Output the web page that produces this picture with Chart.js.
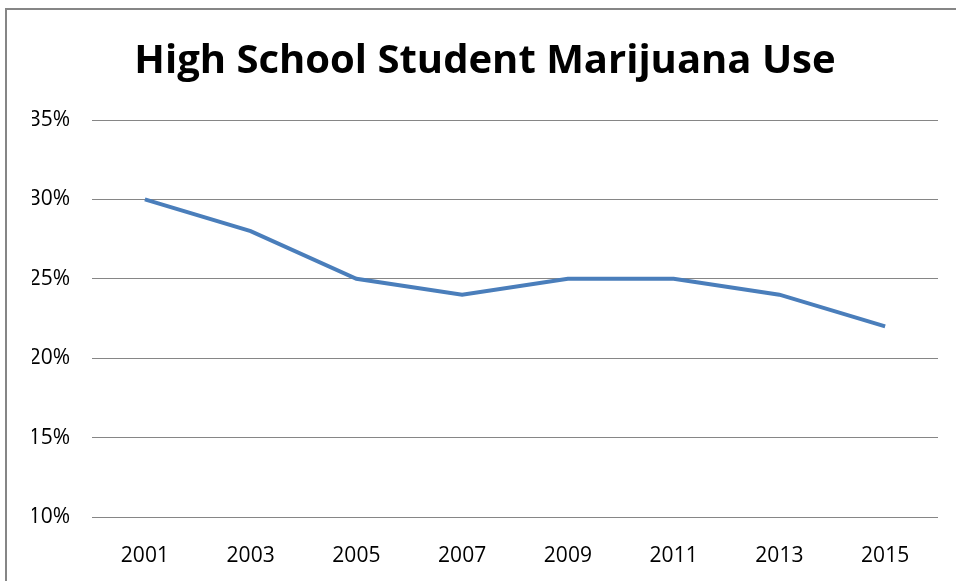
<!DOCTYPE html>
<html>
<head>
<meta charset="utf-8">
<script src="https://cdn.jsdelivr.net/npm/chart.js@4/dist/chart.umd.min.js"></script>
<style>
  html, body { margin: 0; padding: 0; background: #fff; }
  #wrap { position: relative; width: 956px; height: 581px; }
</style>
</head>
<body>
<div id="wrap"><canvas id="chart-line"></canvas></div>
<script>
const years = ["2001", "2003", "2005", "2007", "2009", "2011", "2013", "2015"];
const usePct = [30, 28, 25, 24, 25, 25, 24, 22];
const yTicks = [10, 15, 20, 25, 30, 35];

// outer frame like the spreadsheet chart border
const framePlugin = {
  id: "frame",
  beforeDraw(chart) {
    const c = chart.ctx;
    c.save();
    c.strokeStyle = "#868686";
    c.lineWidth = 2;
    c.strokeRect(6, 9, 960, 600);
    c.restore();
  },
};

document.addEventListener("DOMContentLoaded", function () {
  const ctx = document.getElementById("chart-line").getContext("2d");

  new Chart(ctx, {
    type: "line",
    data: {
      labels: years,
      datasets: [
        {
          label: "Marijuana use",
          data: usePct,
          borderColor: "#4A7EBB",
          borderWidth: 4,
          pointRadius: 0,
          tension: 0,
          fill: false,
        },
      ],
    },
    options: {
      responsive: true,
      maintainAspectRatio: false,
      animation: false,
      layout: { padding: { top: 0, right: 18, bottom: 0, left: 32 } },
      plugins: {
        legend: { display: false },
        tooltip: { enabled: false },
        title: {
          display: true,
          text: "High School Student Marijuana Use",
          color: "#000",
          font: { family: "'Open Sans', sans-serif", size: 40, weight: "bold" },
          padding: { top: 38, bottom: 34 },
        },
      },
      scales: {
        y: {
          min: 10,
          max: 35,
          afterFit(scale) { scale.width = 60; },
          afterBuildTicks(scale) { scale.ticks = yTicks.map(v => ({ value: v })); },
          border: { display: false },
          grid: { color: "#868686", lineWidth: 1, drawTicks: false },
          ticks: {
            padding: 22,
            color: "#000",
            font: { family: "'Open Sans', sans-serif", size: 21 },
            callback: v => v + "%",
          },
        },
        x: {
          offset: true,
          afterFit(scale) { scale.height = 64; },
          border: { display: false },
          grid: { display: false },
          ticks: {
            padding: 18,
            color: "#000",
            maxRotation: 0,
            font: { family: "'Open Sans', sans-serif", size: 21 },
          },
        },
      },
    },
    plugins: [framePlugin],
  });
});
</script>
</body>
</html>
